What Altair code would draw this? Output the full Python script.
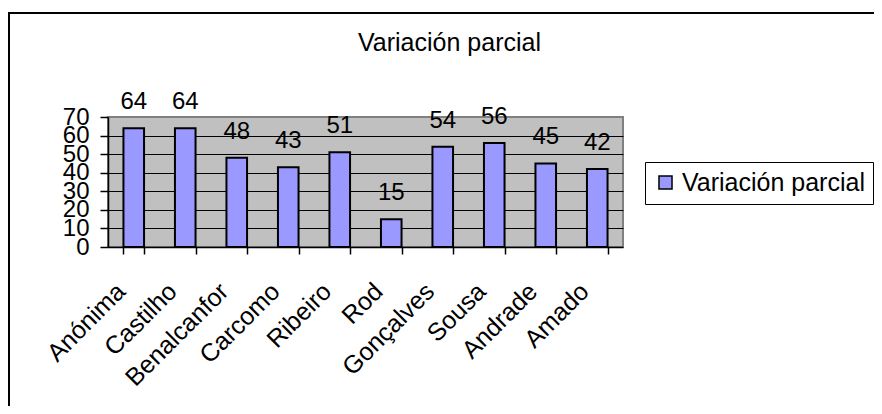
import altair as alt
import pandas as pd

categories = ["Anónima", "Castilho", "Benalcanfor", "Carcomo", "Ribeiro",
              "Rod", "Gonçalves", "Sousa", "Andrade", "Amado"]
values = [64, 64, 48, 43, 51, 15, 54, 56, 45, 42]
series_name = "Variación parcial"
y_ticks = [0, 10, 20, 30, 40, 50, 60, 70]

df = pd.DataFrame({"cat": categories, "val": values, "series": [series_name] * len(categories)})

FONT = "Liberation Sans"
W, H = 515, 130

x_enc = alt.X("cat:N", sort=categories,
              scale=alt.Scale(paddingInner=0.6, paddingOuter=0.3),
              axis=alt.Axis(title=None, labelAngle=-45, labelAlign="right", labelBaseline="middle",
                            labelFontSize=25, labelFont=FONT, labelColor="black",
                            labelPadding=33, labelOffset=-13, tickBand="extent",
                            tickSize=7, tickColor="black", tickWidth=1.5,
                            domainColor="black", domainWidth=1.5, grid=False,
                            labelOverlap=False))
y_enc = alt.Y("val:Q", scale=alt.Scale(domain=[0, 70], nice=False),
              axis=alt.Axis(title=None, values=y_ticks, labelFontSize=24, labelFont=FONT,
                            labelColor="black", labelPadding=11, tickSize=8,
                            tickColor="black", tickWidth=1.5, domainColor="black",
                            domainWidth=1.5, grid=True,
                            gridColor={"condition": {"test": "datum.value === 70 || datum.value === 0",
                                                     "value": "#808080"}, "value": "black"},
                            gridWidth=1, labelOverlap=False))

bars = alt.Chart(df).mark_bar(stroke="black", strokeWidth=2).encode(
    x=x_enc, y=y_enc,
    color=alt.Color("series:N", scale=alt.Scale(range=["#9999FF"]),
                    legend=alt.Legend(title=None, orient="none", legendX=537, legendY=45,
                                      strokeColor="black", fillColor="white", padding=8,
                                      symbolType="square", symbolSize=170,
                                      symbolStrokeColor="black", symbolStrokeWidth=1.5,
                                      symbolOpacity=1,
                                      labelFontSize=25, labelFont=FONT, labelColor="black",
                                      labelLimit=400))
)

labels = alt.Chart(df).mark_text(fontSize=24, font=FONT, color="black",
                                 baseline="alphabetic", dy=-19).encode(
    x=x_enc, y=y_enc, text="val:Q")

frame = alt.Chart(pd.DataFrame({"a": [0]})).mark_rect(
    fillOpacity=0, stroke="black", strokeWidth=2).encode(
    x=alt.value(-99), x2=alt.value(1000), y=alt.value(-104), y2=alt.value(1000))

chart = alt.layer(frame, bars, labels).properties(
    width=W, height=H,
    title=alt.Title(series_name, fontSize=25, font=FONT, fontWeight="normal", color="black",
                    anchor="middle", dx=84, dy=64, offset=0, baseline="alphabetic"),
    autosize=alt.AutoSizeParams(type="none"),
    padding={"left": 100, "top": 109, "right": 251, "bottom": 159},
).configure_view(fill="#C0C0C0", stroke="#808080", strokeWidth=2)

chart.save("out.html", embed_options={"renderer": "svg", "actions": False})
